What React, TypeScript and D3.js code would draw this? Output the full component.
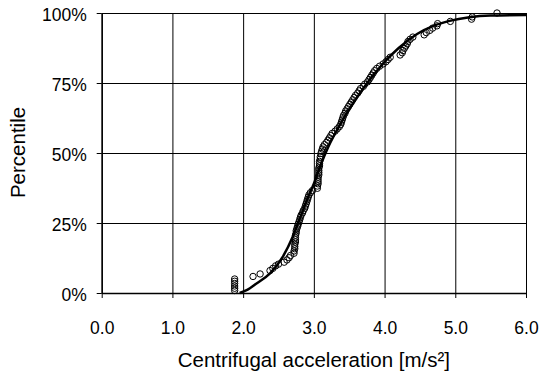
import * as d3 from "d3";
import { useEffect, useRef } from "react";

// measured points (empirical percentiles)
const accel = [
  1.88, 1.88, 1.88, 1.88, 1.88, 1.88, 2.14, 2.24, 2.38, 2.42, 2.46, 2.5, 2.58,
  2.62, 2.65, 2.67, 2.72, 2.72, 2.73, 2.73, 2.73, 2.74, 2.74, 2.74, 2.74, 2.75,
  2.75, 2.76, 2.77, 2.78, 2.79, 2.8, 2.81, 2.82, 2.84, 2.85, 2.87, 2.88, 2.89,
  2.9, 2.91, 2.92, 2.93, 2.95, 2.98, 3.05, 3.05, 3.06, 3.06, 3.06, 3.06, 3.07,
  3.07, 3.07, 3.07, 3.08, 3.08, 3.08, 3.09, 3.09, 3.1, 3.11, 3.12, 3.13, 3.15,
  3.18, 3.2, 3.22, 3.24, 3.26, 3.3, 3.33, 3.36, 3.38, 3.39, 3.4, 3.41, 3.42,
  3.44, 3.45, 3.47, 3.49, 3.51, 3.53, 3.55, 3.57, 3.59, 3.62, 3.64, 3.66, 3.7,
  3.72, 3.76, 3.78, 3.8, 3.82, 3.84, 3.86, 3.89, 3.93, 3.98, 4.02, 4.05, 4.08,
  4.22, 4.25, 4.26, 4.28, 4.3, 4.32, 4.33, 4.36, 4.4, 4.56, 4.59, 4.64, 4.68,
  4.74, 4.75, 4.93, 5.23, 5.24, 5.59,
];
const percentile = [
  0.9, 1.7, 2.5, 3.4, 4.2, 5.0, 5.9, 6.8, 8.0, 8.8, 9.7, 10.3, 11.0, 11.8,
  12.6, 13.4, 14.2, 15.0, 15.8, 16.6, 17.4, 18.2, 19.0, 19.8, 20.6, 21.4, 22.2,
  23.0, 23.8, 24.6, 25.4, 26.2, 27.0, 27.8, 28.6, 29.4, 30.2, 31.0, 31.8, 32.6,
  33.4, 34.2, 35.0, 35.8, 36.6, 37.4, 38.2, 39.0, 39.8, 40.6, 41.4, 42.2, 43.0,
  43.8, 44.6, 45.4, 46.2, 47.0, 47.8, 48.6, 49.8, 50.6, 51.4, 52.2, 53.0, 53.8,
  54.6, 55.4, 56.2, 57.0, 57.8, 58.6, 59.4, 60.2, 61.0, 61.8, 62.6, 63.4, 64.2,
  65.0, 65.8, 66.6, 67.4, 68.2, 69.0, 69.8, 70.6, 71.4, 72.2, 73.0, 73.8, 74.6,
  75.4, 76.2, 77.0, 77.8, 78.6, 79.4, 80.2, 81.0, 81.8, 82.6, 83.4, 84.2, 85.0,
  85.8, 86.6, 87.4, 88.2, 89.0, 89.8, 90.6, 91.4, 92.2, 93.0, 93.8, 94.6, 95.4,
  96.2, 97.0, 97.8, 98.6, 100.0,
];

// fitted distribution curve
const fitX = [
  1.95, 2.05, 2.2, 2.38, 2.56, 2.7, 2.8, 2.94, 3.0, 3.1, 3.2, 3.4, 3.6, 3.8, 4.0,
  4.2, 4.46, 4.7, 4.92, 5.2, 5.5, 6.0,
];
const fitY = [
  0, 1.0, 3.6, 7.0, 12.9, 20.0, 26.5, 35.5, 39.0, 46.0, 52.0, 61.5, 69.5, 76.5,
  82.5, 87.5, 92.5, 95.5, 97.2, 98.5, 99.1, 99.3,
];

const xTicks = [0, 1, 2, 3, 4, 5, 6];
const yTicks = [0, 25, 50, 75, 100];

const width = 539;
const height = 376;
const plot = { left: 101.7, right: 526, top: 13, bottom: 293 };
const font = "'Liberation Sans', Arial, sans-serif";

export default function App() {
  const ref = useRef<HTMLDivElement>(null);

  useEffect(() => {
    if (!ref.current) return;

    const svg = d3
      .select(ref.current)
      .append("svg")
      .attr("width", width)
      .attr("height", height)
      .style("position", "absolute")
      .style("left", "0px")
      .style("top", "0px")
      .style("background", "#fff");

    const x = d3.scaleLinear().domain([0, 6]).range([plot.left, plot.right]);
    const y = d3.scaleLinear().domain([0, 100]).range([plot.bottom, plot.top]);

    // grid
    svg
      .append("g")
      .attr("transform", `translate(0,${plot.bottom})`)
      .call(d3.axisBottom(x).tickValues(xTicks).tickSize(-(plot.bottom - plot.top)).tickFormat(() => ""))
      .call((g) => g.select(".domain").remove())
      .call((g) => g.selectAll("line").attr("stroke", "#000").attr("stroke-width", 1));

    svg
      .append("g")
      .attr("transform", `translate(${plot.left},0)`)
      .call(d3.axisLeft(y).tickValues(yTicks).tickSize(-(plot.right - plot.left)).tickFormat(() => ""))
      .call((g) => g.select(".domain").remove())
      .call((g) => g.selectAll("line").attr("stroke", "#000").attr("stroke-width", 1));

    // axes
    svg
      .append("g")
      .attr("transform", `translate(0,${plot.bottom})`)
      .call(d3.axisBottom(x).tickValues(xTicks).tickSize(5).tickSizeOuter(0).tickPadding(24).tickFormat(d3.format(".1f")))
      .call((g) => g.select(".domain").attr("stroke-width", 1.5))
      .call((g) => g.selectAll("text").attr("font-family", font).attr("font-size", 17.5).attr("fill", "#000"));

    svg
      .append("g")
      .attr("transform", `translate(${plot.left},0)`)
      .call(d3.axisLeft(y).tickValues(yTicks).tickSize(5).tickSizeOuter(0).tickPadding(10).tickFormat((d) => `${d}%`))
      .call((g) => g.select(".domain").attr("stroke-width", 1.5))
      .call((g) => g.selectAll("text").attr("font-family", font).attr("font-size", 17.5).attr("fill", "#000").attr("dy", "0.4em"));

    // fitted curve
    const pts = fitX.map((v, i) => [v, fitY[i]] as [number, number]);
    svg
      .append("path")
      .datum(pts)
      .attr("fill", "none")
      .attr("stroke", "#000")
      .attr("stroke-width", 2.5)
      .attr("d", d3.line<[number, number]>().x((d) => x(d[0])).y((d) => y(d[1])).curve(d3.curveMonotoneX));

    // points
    svg
      .append("g")
      .selectAll("circle")
      .data(accel.map((v, i) => [v, percentile[i]]))
      .join("circle")
      .attr("cx", (d) => x(d[0]))
      .attr("cy", (d) => y(d[1]))
      .attr("r", 3.2)
      .attr("fill", "none")
      .attr("stroke", "#000")
      .attr("stroke-width", 1);

    // titles
    svg
      .append("text")
      .attr("x", (plot.left + plot.right) / 2)
      .attr("y", 367)
      .attr("text-anchor", "middle")
      .attr("font-family", font)
      .attr("font-size", 20.5)
      .text("Centrifugal acceleration [m/s²]");

    svg
      .append("text")
      .attr("transform", `translate(25,152.5) rotate(-90)`)
      .attr("text-anchor", "middle")
      .attr("font-family", font)
      .attr("font-size", 20.5)
      .text("Percentile");

    return () => {
      d3.select(ref.current).selectAll("*").remove();
    };
  }, []);

  return <div ref={ref} />;
}
